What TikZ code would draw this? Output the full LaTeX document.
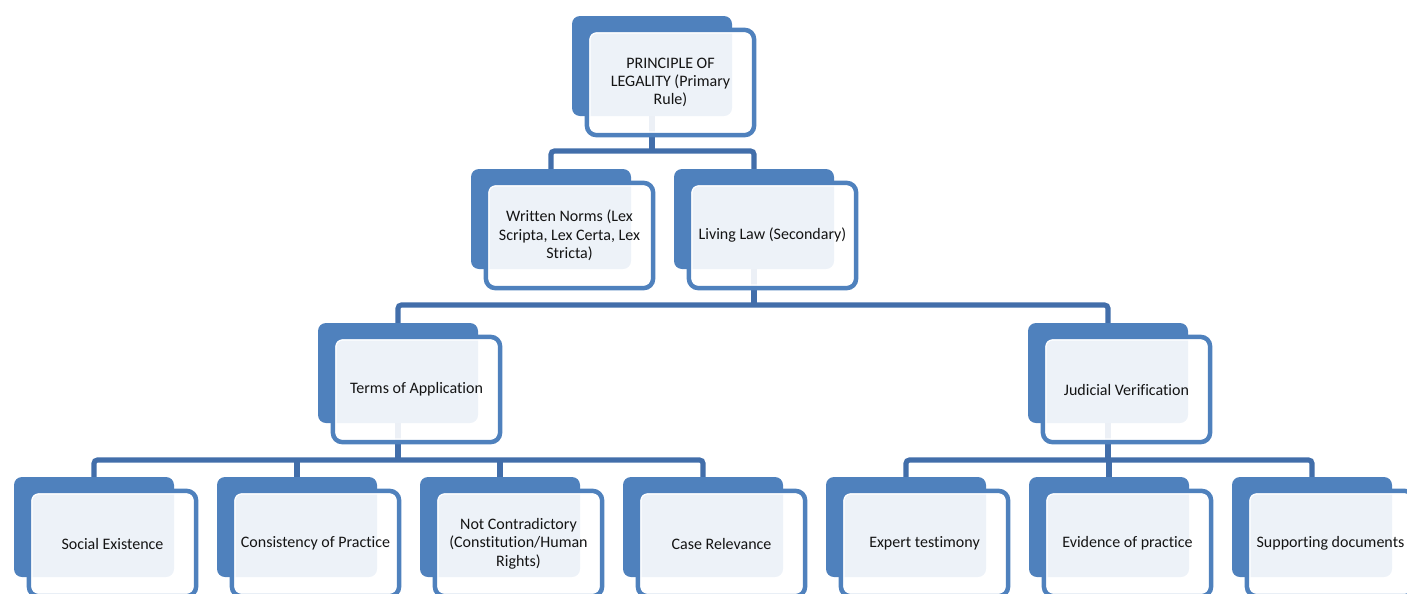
\documentclass[tikz,border=0pt]{standalone}
\usepackage{fontspec}
\setmainfont[Ligatures=NoCommon]{Carlito}
\usetikzlibrary{backgrounds}
\definecolor{boxblue}{RGB}{79,129,189}
\definecolor{linkblue}{RGB}{66,110,170}
\definecolor{txt}{RGB}{20,20,20}
\tikzset{
  backbox/.style={rectangle, rounded corners=6pt, fill=boxblue, minimum width=120pt, minimum height=75pt, inner sep=0pt, outer sep=0pt, anchor=north west},
  frontbox/.style={rectangle, rounded corners=7pt, fill=white, fill opacity=0.9, text opacity=1, draw=boxblue, line width=3.5pt, outer sep=0pt, minimum width=125.25pt, minimum height=78.75pt, inner sep=2pt, align=center, text=txt, font=\fontsize{12}{13.8}\selectfont},
  innerline/.style={white, line width=0.9pt, rounded corners=5pt},
  link/.style={linkblue, line width=3.8pt, rounded corners=2.5pt}
}
\newcommand\hunit[4]{%
  \node[backbox] (#1b) at (#2,#3) {};
  \node[frontbox] (#1) at (#2+98.5,#3+66.5) {#4};
  \draw[innerline] ([shift={(2.2pt,-2.2pt)}]#1.north west) rectangle ([shift={(-2.2pt,2.2pt)}]#1.south east);
}
\begin{document}
\begin{tikzpicture}[x=0.75pt,y=-0.75pt]
\useasboundingbox (0,0) rectangle (1407,593);
\clip (0,0) rectangle (1407,593);
\hunit{top}{572}{16}{PRINCIPLE OF\\LEGALITY (Primary\\Rule)}
\hunit{wn}{471}{169}{Written Norms (Lex\\Scripta, Lex Certa, Lex\\Stricta)}
\hunit{ll}{674}{169}{Living Law (Secondary)}
\hunit{ta}{318}{323}{Terms of Application}
\hunit{jv}{1028}{323}{Judicial Verification}
\hunit{sa}{14}{477}{Social Existence}
\hunit{sb}{217}{477}{Consistency of Practice}
\hunit{sc}{420}{477}{Not Contradictory\\(Constitution/Human\\Rights)}
\hunit{sd}{623}{477}{Case Relevance}
\hunit{se}{826}{477}{Expert testimony}
\hunit{sf}{1029}{477}{Evidence of practice}
\hunit{sg}{1232}{477}{Supporting documents}
\begin{scope}[on background layer]
  \path (topb.south) ++(0,35) coordinate (bar1);
  \draw[link] (topb.south) -- (bar1);
  \draw[link] (wnb.north) |- (bar1) -| (llb.north);
  \path (llb.south) ++(0,36) coordinate (bar2);
  \draw[link] (llb.south) -- (bar2);
  \draw[link] (tab.north) |- (bar2) -| (jvb.north);
  \path (tab.south) ++(0,37) coordinate (bar3);
  \draw[link] (tab.south) -- (bar3);
  \draw[link] (sab.north) |- (bar3) -| (sdb.north);
  \draw[link] (sbb.north) -- (sbb.north |- bar3);
  \draw[link] (scb.north) -- (scb.north |- bar3);
  \path (jvb.south) ++(0,37) coordinate (bar4);
  \draw[link] (jvb.south) -- (bar4);
  \draw[link] (seb.north) |- (bar4) -| (sgb.north);
  \draw[link] (sfb.north) -- (sfb.north |- bar4);
\end{scope}
\end{tikzpicture}
\end{document}
